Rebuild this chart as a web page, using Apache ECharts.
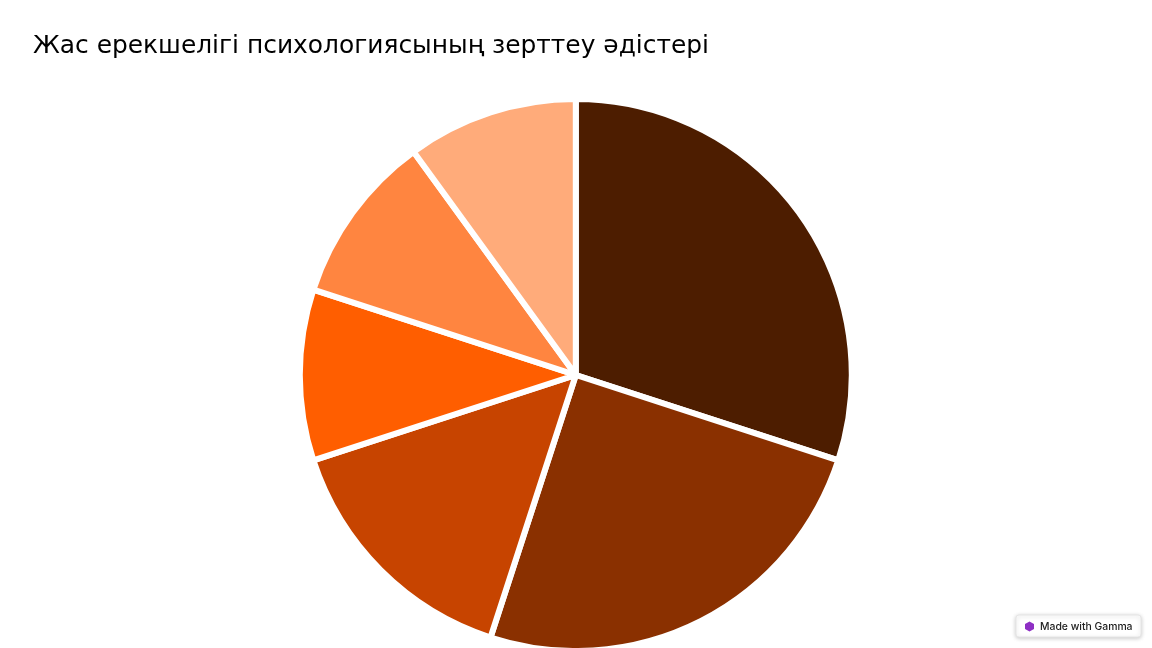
<!DOCTYPE html>
<html>
<head>
<meta charset="utf-8">
<style>
html, body { margin: 0; padding: 0; background: #fff; }
#pie { width: 1152px; height: 648px; }
</style>
<script src="https://cdn.jsdelivr.net/npm/echarts@6/dist/echarts.min.js"></script>
</head>
<body>
<div id="pie"></div>
<script>
const titleText = 'Жас ерекшелігі психологиясының зерттеу әдістері'
const badgeText = 'Made with Gamma'
const sliceValues = [30, 25, 15, 10, 10, 10]
const sliceColors = ['#4d1d00', '#8a3000', '#c74400', '#ff5e00', '#ff8540', '#ffab7a']

const chart = echarts.init(document.getElementById('pie'))
chart.setOption({
  animation: false,
  backgroundColor: '#fff',
  title: {
    text: titleText,
    left: 28,
    top: 29,
    textStyle: {
      fontFamily: 'DejaVu Sans',
      fontSize: 24.9,
      fontWeight: 'normal',
      color: '#000'
    }
  },
  graphic: [
    {
      type: 'rect',
      shape: { x: 1016, y: 615, width: 125, height: 22, r: 3 },
      style: { fill: '#fff', stroke: '#e6e6e6', lineWidth: 1, shadowBlur: 4, shadowOffsetY: 1, shadowColor: 'rgba(0,0,0,0.2)' }
    },
    {
      type: 'polygon',
      shape: { points: [[1029.5, 621.5], [1034, 624], [1034, 629], [1029.5, 631.5], [1025, 629], [1025, 624]] },
      style: { fill: '#8e2fc4' }
    },
    {
      type: 'text',
      style: { x: 1040, y: 626.5, text: badgeText, fontFamily: 'Inter', fontSize: 10.4, fontWeight: 500, fill: '#222', verticalAlign: 'middle' }
    }
  ],
  series: [
    {
      type: 'pie',
      center: [575.8, 375],
      radius: [0, 276],
      startAngle: 90,
      clockwise: true,
      label: { show: false },
      labelLine: { show: false },
      itemStyle: { borderColor: '#fff', borderWidth: 6 },
      data: sliceValues.map((v, i) => ({ value: v, itemStyle: { color: sliceColors[i] } }))
    }
  ]
})
</script>
</body>
</html>
